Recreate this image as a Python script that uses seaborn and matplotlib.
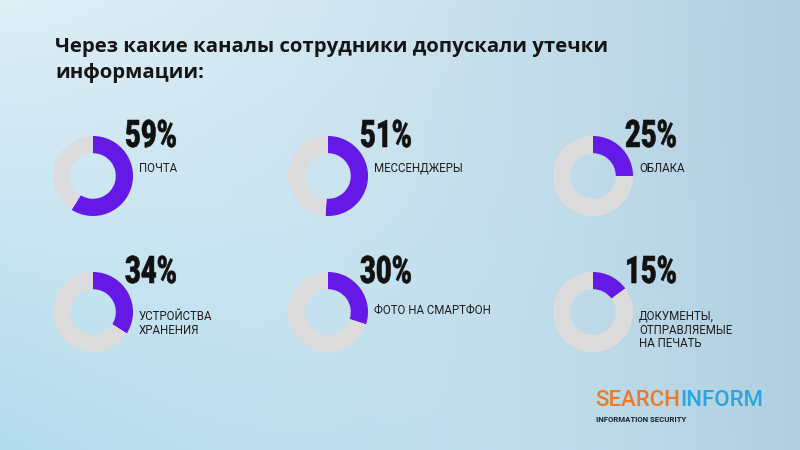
import matplotlib
matplotlib.use("Agg")

import matplotlib.pyplot as plt
import numpy as np
import seaborn as sns
from matplotlib.font_manager import FontProperties
from matplotlib.patches import PathPatch
from matplotlib.textpath import TextPath
from matplotlib.transforms import Affine2D

# ── данные ────────────────────────────────────────────────────────────────
title = "Через какие каналы сотрудники допускали утечки\nинформации:"
channels = [
    "ПОЧТА",
    "МЕССЕНДЖЕРЫ",
    "ОБЛАКА",
    "УСТРОЙСТВА\nХРАНЕНИЯ",
    "ФОТО НА СМАРТФОН",
    "ДОКУМЕНТЫ,\nОТПРАВЛЯЕМЫЕ\nНА ПЕЧАТЬ",
]
shares = [59, 51, 25, 34, 30, 15]

# ── стиль ─────────────────────────────────────────────────────────────────
sns.set_theme(style="white")
plt.rcParams["font.family"] = ["Roboto", "DejaVu Sans"]

PURPLE = "#6419e6"
GREY = "#dcdcdc"
W, H = 800, 450

fig = plt.figure(figsize=(8, 4.5), dpi=100)

# фон: мягкий голубой градиент
bg = fig.add_axes([0, 0, 1, 1])
xx, yy = np.meshgrid(np.linspace(0, 1, 400), np.linspace(0, 1, 225))
c_tl = np.array([0.87, 0.935, 0.965])
c_r = np.array([0.69, 0.81, 0.88])
c_bl = np.array([0.70, 0.86, 0.93])
t_r = np.clip(xx ** 1.5, 0, 1)[..., None]
t_b = np.clip(yy * (1 - xx), 0, 1)[..., None]
img = c_tl * (1 - t_r) + c_r * t_r
img = img * (1 - t_b) + c_bl * t_b
bg.imshow(img, extent=[0, W, H, 0], aspect="auto", zorder=0)
bg.set_xlim(0, W)
bg.set_ylim(H, 0)
bg.axis("off")

# заголовок
bg.text(55, 60, title, fontsize=14.7, fontweight="bold", color="#151515",
        family=["Open Sans", "DejaVu Sans"], va="center", ha="left",
        linespacing=1.38)

# узкий жирный шрифт для процентов: сжимаем контур по горизонтали
pct_font = FontProperties(family="Roboto", weight="black")


def draw_percent(x, y_base, s, cap=27, squeeze=0.72):
    size = cap / 0.711
    tp = TextPath((0, 0), s, size=size, prop=pct_font)
    tr = Affine2D().scale(squeeze, -1).translate(x, y_base) + bg.transData
    bg.add_patch(PathPatch(tp, transform=tr, facecolor="#111111",
                           edgecolor="#111111", lw=0.4, zorder=5))


# ── кольцевые диаграммы ───────────────────────────────────────────────────
col_x = [93, 328, 593]
row_y = [176, 312]
label_dy = [-8, -2]
R = 40

for i, (name, val) in enumerate(zip(channels, shares)):
    cx = col_x[i % 3]
    cy = row_y[i // 3]
    ax = fig.add_axes([(cx - R) / W, 1 - (cy + R) / H, 2 * R / W, 2 * R / H])
    ax.pie([val, 100 - val], colors=[PURPLE, GREY], startangle=90,
           counterclock=False, radius=1.0,
           wedgeprops=dict(width=0.43, edgecolor="none"))
    ax.set_xlim(-1, 1)
    ax.set_ylim(-1, 1)
    ax.set_aspect("equal")
    ax.axis("off")

    draw_percent(cx + 32, cy - 29, f"{val}%")
    bg.text(cx + 46, cy + label_dy[i // 3], name, fontsize=8.3,
            color="#1e1e1e", ha="left", va="top" if "\n" in name else "center",
            linespacing=1.05)

# логотип
search = bg.text(595, 400, "SEARCH", fontsize=16, fontweight="medium",
                 color="#ec7a2c", ha="left", va="center")
bg.annotate("INFORM", xy=(1, 0.5), xycoords=search, fontsize=16,
            fontweight="medium", color="#2ba4e0", ha="left", va="center")
bg.text(596, 419, "INFORMATION SECURITY", fontsize=5.6, fontweight="bold",
        color="#1a1f2e", ha="left", va="center")

fig.savefig("out.png", dpi=100)
plt.close(fig)
